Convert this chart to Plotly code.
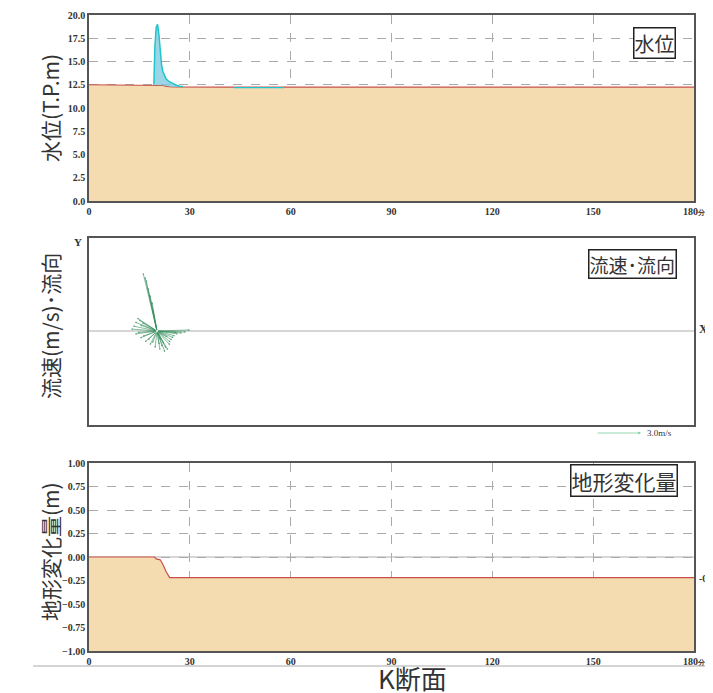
import plotly.graph_objects as go

# the page body adds an 8px margin, so the figure is laid out in
# reference pixels shifted by that much
OFF = 8
W, H = 713, 693

# --- data ---
time_ticks = [0, 30, 60, 90, 120, 150, 180]
time_tick_text = ["0", "30", "60", "90", "120", "150", "180<span style='font-size:7px'>分</span>"]

# 水位 panel: river bed (tan) and water surface (cyan)
bed_t = [0, 19.5, 21.0, 22.0, 23.0, 24.0, 25.0, 40.0, 180]
bed_level = [12.5, 12.5, 12.47, 12.42, 12.33, 12.28, 12.26, 12.25, 12.25]

water_t = [19.3, 19.6, 20.0, 20.4, 20.8, 21.2, 21.6, 22.0, 22.5, 23.0, 24.0, 25.0, 26.0, 27.0, 28.0]
water_level = [12.5, 16.6, 18.7, 19.0, 17.9, 15.7, 14.6, 13.9, 13.4, 13.1, 12.8, 12.6, 12.45, 12.35, 12.3]
water_bed = [12.5, 12.5, 12.5, 12.5, 12.5, 12.47, 12.45, 12.42, 12.38, 12.33, 12.28, 12.26, 12.25, 12.25, 12.25]

late_water_t = [43, 58]
late_water_level = [12.2, 12.2]

# 流速・流向 panel: velocity vectors u, v (m/s)
vel_u = [-0.93, -0.80, -0.73, -0.60, -0.47, -0.33, -0.27,
         -1.47, -1.33, -1.20, -1.60, -1.73, -1.13, -1.00,
         -1.47, -1.13, -0.80, -0.47, -0.13, -1.30, -0.95, -0.60,
         0.20, 0.53, 0.73, 0.87, 1.00, 1.20, 1.40, 1.67, 1.93, 2.20,
         0.35, 0.60, 0.90, 1.10, 0.45, 0.15, 0.25, 0.70, 1.30, -0.30]
vel_v = [3.87, 3.60, 3.40, 2.87, 2.40, 1.93, 1.40,
         0.60, 0.87, 0.73, 0.33, 0.13, 0.40, 0.55,
         -0.20, -0.47, -0.73, -0.93, -1.13, -0.10, -0.35, -0.60,
         -1.27, -1.40, -1.27, -0.93, -0.60, -0.33, -0.20, -0.13, -0.07, 0.07,
         -1.05, -1.15, -0.75, -0.45, -0.85, -0.90, -0.60, -0.40, -0.10, -0.80]
scale_speed = 3.0

# 地形変化量 panel
dz_t = [0, 19.5, 20.0, 21.2, 22.0, 23.0, 24.0, 180]
dz = [0.0, 0.0, -0.02, -0.03, -0.08, -0.16, -0.22, -0.22]
dz_floor = [-1.0] * len(dz_t)

# --- styles ---
TAN = "#F4DCB0"
RED = "#C8504A"
CYAN = "#22C4CC"
CYAN_FILL = "rgba(120,200,220,0.75)"
GREEN = "#3A9060"
FRAME = "#555555"
GRID = "#AAAAAA"
TICK_FONT = dict(family="Liberation Serif", size=10, color="#333333", weight="bold")
TITLE_FONT = dict(family="Noto Sans CJK JP", size=21, color="#333333")


def px(x):
    return (x - OFF) / W


def py(y):
    return 1 - (y - OFF) / H


def ydom(top, bottom):
    return [py(bottom), py(top)]


x0, x1 = px(89), px(694)

fig = go.Figure()

# panel 1
fig.add_trace(go.Scatter(x=bed_t, y=bed_level, mode="lines", fill="tozeroy",
                         fillcolor=TAN, line=dict(color=RED, width=1.2),
                         xaxis="x", yaxis="y"))
fig.add_trace(go.Scatter(x=water_t, y=water_bed, mode="lines", line=dict(width=0),
                         xaxis="x", yaxis="y"))
fig.add_trace(go.Scatter(x=water_t, y=water_level, mode="lines", fill="tonexty",
                         fillcolor=CYAN_FILL, line=dict(color=CYAN, width=1.5),
                         xaxis="x", yaxis="y"))
fig.add_trace(go.Scatter(x=late_water_t, y=late_water_level, mode="lines",
                         line=dict(color=CYAN, width=1.2), xaxis="x", yaxis="y"))

# panel 2 (invisible trace to anchor axes)
fig.add_trace(go.Scatter(x=[0], y=[0], mode="markers", marker=dict(size=1, opacity=0),
                         xaxis="x2", yaxis="y2"))

# panel 3
fig.add_trace(go.Scatter(x=dz_t, y=dz_floor, mode="lines", line=dict(width=0),
                         xaxis="x3", yaxis="y3"))
fig.add_trace(go.Scatter(x=dz_t, y=dz, mode="lines", fill="tonexty",
                         fillcolor=TAN, line=dict(color=RED, width=1.2),
                         xaxis="x3", yaxis="y3"))

axis_common = dict(showline=True, mirror=True, linecolor=FRAME, linewidth=1.5,
                   ticks="", tickfont=TICK_FONT, zeroline=False, automargin=False)

# velocity axes in m/s, origin placed where the vectors start
px_per_ms = 15.0
origin_px = (157, 331)
p2_left, p2_right, p2_top, p2_bottom = 89, 694, 238, 425
x2_range = [(p2_left - origin_px[0]) / px_per_ms, (p2_right - origin_px[0]) / px_per_ms]
y2_range = [(origin_px[1] - p2_bottom) / px_per_ms, (origin_px[1] - p2_top) / px_per_ms]

fig.update_layout(
    width=W, height=H,
    margin=dict(l=0, r=0, t=0, b=0, autoexpand=False),
    paper_bgcolor="white", plot_bgcolor="white",
    showlegend=False,
    xaxis=dict(**axis_common, domain=[x0, x1], range=[0, 180], anchor="y",
               tickvals=time_ticks, ticktext=time_tick_text,
               showgrid=True, gridcolor=GRID, griddash="dash", gridwidth=1),
    yaxis=dict(**axis_common, domain=ydom(15, 201), range=[0, 20], anchor="x",
               tickvals=[0, 2.5, 5, 7.5, 10, 12.5, 15, 17.5, 20], tickformat=".1f",
               showgrid=True, gridcolor=GRID, griddash="dash", gridwidth=1),
    xaxis2=dict(**axis_common, domain=[x0, x1], range=x2_range, anchor="y2",
                showticklabels=False, showgrid=False),
    yaxis2=dict(**axis_common, domain=ydom(p2_top, p2_bottom), range=y2_range, anchor="x2",
                showticklabels=False, showgrid=False),
    xaxis3=dict(**axis_common, domain=[x0, x1], range=[0, 180], anchor="y3",
                tickvals=time_ticks, ticktext=time_tick_text,
                showgrid=True, gridcolor=GRID, griddash="dash", gridwidth=1),
    yaxis3=dict(**axis_common, domain=ydom(463, 651), range=[-1, 1], anchor="x3",
                tickvals=[-1, -0.75, -0.5, -0.25, 0, 0.25, 0.5, 0.75, 1], tickformat=".2f",
                showgrid=True, gridcolor=GRID, griddash="dash", gridwidth=1),
)

# zero lines
fig.add_shape(type="line", xref="x2 domain", yref="y2", x0=0, x1=1, y0=0, y1=0,
              line=dict(color="#C8C8C8", width=1.5))
fig.add_shape(type="line", xref="x3 domain", yref="y3", x0=0, x1=1, y0=0, y1=0,
              line=dict(color="#C8C8C8", width=1.5), layer="below")
# separator line near the bottom
fig.add_shape(type="line", xref="paper", yref="paper", x0=px(33), x1=1, y0=py(666), y1=py(666),
              line=dict(color="#AAAAAA", width=1))

# velocity arrows
for u, v in zip(vel_u, vel_v):
    fig.add_annotation(x=u, y=v, ax=0, ay=0, xref="x2", yref="y2", axref="x2", ayref="y2",
                       showarrow=True, arrowhead=2, arrowsize=0.5, arrowwidth=0.7,
                       arrowcolor=GREEN, opacity=0.85, text="")

# scale arrow
scale_tail = (596 - origin_px[0]) / px_per_ms
fig.add_annotation(x=scale_tail + scale_speed, y=py(433), xref="x2", yref="paper",
                   ax=scale_tail, ay=0, axref="x2", ayref="pixel",
                   showarrow=True, arrowhead=2, arrowsize=0.7, arrowwidth=0.8,
                   arrowcolor="#7FCFA0", text="")
fig.add_annotation(x=px(645), y=py(433), xref="paper", yref="paper", xanchor="left", yanchor="middle",
                   text="3.0m/s", showarrow=False, font=dict(family="Liberation Serif", size=9, color="#333"))

# axis titles
for text, yc in [("水位(T.P.m)", 108), ("流速(m/s)･流向", 326), ("地形変化量(m)", 552)]:
    fig.add_annotation(x=px(50), y=py(yc), xref="paper", yref="paper", text=text,
                       xanchor="center", yanchor="middle",
                       textangle=-90, showarrow=False, font=TITLE_FONT)

# panel name boxes
for text, xr, yc, size in [("水位", 676, 43, 20), ("流速･流向", 677, 264, 19), ("地形変化量", 678, 480, 21)]:
    fig.add_annotation(x=px(xr), y=py(yc), xref="paper", yref="paper", xanchor="right", yanchor="middle",
                       text=text, showarrow=False, bgcolor="white", bordercolor="#222",
                       borderwidth=1.5, borderpad=0, font=dict(family="Noto Sans CJK JP", size=size, color="#333"))

# Y / X markers on velocity panel, clipped right-edge label
fig.add_annotation(x=px(78), y=py(242), xref="paper", yref="paper", text="Y", showarrow=False,
                   xanchor="center", yanchor="middle",
                   font=dict(family="Liberation Serif", size=11, color="#333", weight="bold"))
fig.add_annotation(x=px(697), y=py(329), xref="paper", yref="paper", text="X", showarrow=False,
                   xanchor="left", yanchor="middle",
                   font=dict(family="Liberation Serif", size=12, color="#333", weight="bold"))
fig.add_annotation(x=px(697), y=py(578), xref="paper", yref="paper", xanchor="left", yanchor="middle",
                   text="-0.5", showarrow=False,
                   font=dict(family="Liberation Serif", size=10, color="#333", weight="bold"))

# section name
fig.add_annotation(x=px(412), y=py(677), xref="paper", yref="paper", text="K断面",
                   xanchor="center", yanchor="middle",
                   showarrow=False, font=dict(family="Noto Sans CJK JP", size=26, color="#333"))

fig.write_html("out.html")
